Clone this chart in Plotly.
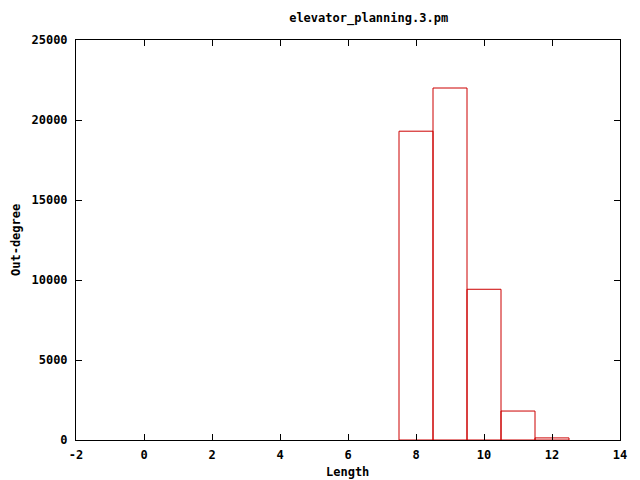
import plotly.graph_objects as go

lengths = [8, 9, 10, 11, 12]
out_degree = [19300, 22000, 9420, 1810, 130]
x_ticks = [-2, 0, 2, 4, 6, 8, 10, 12, 14]
y_ticks = [0, 5000, 10000, 15000, 20000, 25000]

FAM = "DejaVu Sans Mono"
font = dict(family=FAM, size=12, color="black")

# page body has an 8px margin; compensate so the plot box lands at 76..620 x 40..440
OFF = 8
W, H = 640 - OFF, 480 - OFF
L, R, T, B = 76 - OFF, 20, 40 - OFF, 40

fig = go.Figure(go.Bar(
    x=lengths, y=out_degree, width=1,
    marker=dict(color="rgba(255,255,255,0)", line=dict(color="#cc0000", width=1)),
))

pw, ph = 544, 400
def px(xp):
    return (xp - 76) / pw
def py(yp):
    return (440 - yp) / ph

fig.update_layout(
    width=W, height=H,
    margin=dict(l=L, r=R, t=T, b=B, autoexpand=False),
    paper_bgcolor="white", plot_bgcolor="white",
    showlegend=False,
    font=font,
    title=dict(text="<b>elevator_planning.3.pm</b>", x=(348 - OFF) / W, xanchor="center",
               xref="paper", y=1 - (18 - OFF) / H, yanchor="middle",
               font=dict(family=FAM, size=12)),
    annotations=[
        dict(text="<b>Length</b>", x=px(347), y=py(472), xref="paper", yref="paper",
             xanchor="center", yanchor="middle", showarrow=False, font=font),
        dict(text="<b>Out-degree</b>", x=px(16), y=py(240), xref="paper", yref="paper",
             xanchor="center", yanchor="middle", showarrow=False, font=font, textangle=-90),
    ],
)
fig.update_xaxes(
    range=[-2, 14], tickvals=x_ticks, ticktext=[f"<b>{v}</b>" for v in x_ticks],
    ticks="inside", ticklen=6, tickcolor="black", mirror="ticks", automargin=False,
    ticklabelstandoff=4,
    showline=True, linecolor="black", linewidth=1, showgrid=False, zeroline=False,
)
fig.update_yaxes(
    range=[0, 25000], tickvals=y_ticks, ticktext=[f"<b>{v}</b>" for v in y_ticks],
    ticks="inside", ticklen=6, tickcolor="black", mirror="ticks", automargin=False,
    ticklabelstandoff=5,
    showline=True, linecolor="black", linewidth=1, showgrid=False, zeroline=False,
)

fig.write_html("out.html")
